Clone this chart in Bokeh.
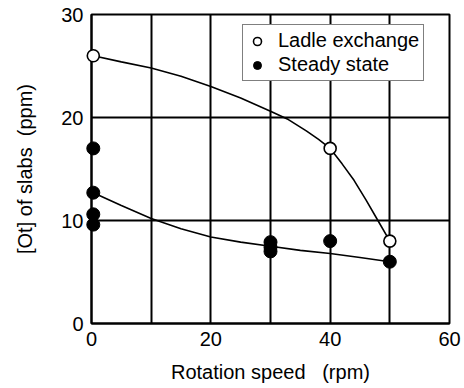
from bokeh.plotting import figure
from bokeh.models import FixedTicker, Legend, LegendItem, Range1d
from bokeh.embed import file_html
from bokeh.resources import INLINE

# Measured [Ot] of slabs vs. rotation speed
ladle_rpm = [0.3, 40, 50]
ladle_ppm = [26.0, 17.0, 8.0]

steady_rpm = [0.3, 0.3, 0.3, 0.3, 30, 30, 30, 40, 50]
steady_ppm = [17.0, 12.7, 10.6, 9.6, 7.9, 7.4, 7.0, 8.0, 6.0]

# Hand-drawn trend curves through each series
ladle_curve_rpm = [0.3, 5, 10, 15, 20, 25, 30, 33, 36, 38, 40, 42, 44, 46, 48, 50]
ladle_curve_ppm = [26.0, 25.4, 24.8, 24.0, 23.0, 21.9, 20.6, 19.8, 18.7, 17.9, 17.0, 15.5, 13.9, 12.0, 10.0, 8.0]

steady_curve_rpm = [0.3, 5, 10, 15, 20, 25, 30, 35, 40, 45, 50]
steady_curve_ppm = [12.7, 11.45, 10.2, 9.2, 8.4, 7.9, 7.5, 7.1, 6.8, 6.4, 6.0]

x_ticks = [0, 20, 40, 60]
y_ticks = [0, 10, 20, 30]
x_grid = [10, 20, 30, 40, 50]
y_grid = [10, 20]

FONT = "Liberation Sans"
FSIZE = "20px"
NBSP = "\u00a0"

p = figure(width=464, height=388, output_backend="svg", toolbar_location=None,
           x_range=Range1d(0, 60), y_range=Range1d(0, 30),
           min_border_left=91, min_border_right=15,
           min_border_top=14, min_border_bottom=65)
p.background_fill_color = "white"
p.border_fill_color = "white"
p.outline_line_color = "black"
p.outline_line_width = 2

p.xaxis.ticker = FixedTicker(ticks=x_ticks)
p.yaxis.ticker = FixedTicker(ticks=y_ticks)
p.xgrid.ticker = FixedTicker(ticks=x_grid)
p.ygrid.ticker = FixedTicker(ticks=y_grid)
for g in (p.xgrid, p.ygrid):
    g.grid_line_color = "black"
    g.grid_line_width = 2
    g.grid_line_alpha = 1.0

for ax in (p.xaxis, p.yaxis):
    ax.axis_line_color = "black"
    ax.axis_line_width = 2
    ax.major_tick_in = 0
    ax.major_tick_out = 0
    ax.minor_tick_in = 0
    ax.minor_tick_out = 0
    ax.major_label_text_font = FONT
    ax.major_label_text_font_size = FSIZE
    ax.major_label_text_color = "black"
    ax.major_label_standoff = 8
    ax.axis_label_text_font = FONT
    ax.axis_label_text_font_size = FSIZE
    ax.axis_label_text_font_style = "normal"
    ax.axis_label_text_color = "black"

p.xaxis.axis_label = "Rotation speed" + NBSP * 3 + "(rpm)"
p.xaxis.axis_label_standoff = 12
p.yaxis.axis_label = "[Ot] of slabs" + NBSP * 2 + "(ppm)"
p.yaxis.axis_label_standoff = 22

p.line(ladle_curve_rpm, ladle_curve_ppm, line_color="black", line_width=1.6)
p.line(steady_curve_rpm, steady_curve_ppm, line_color="black", line_width=1.6)

# markers sit on the left frame edge, so draw them above the frame clip
r_steady = p.scatter(steady_rpm, steady_ppm, marker="circle", size=13,
                     fill_color="black", line_color="black", level="overlay")
r_ladle = p.scatter(ladle_rpm, ladle_ppm, marker="circle", size=12,
                    fill_color="white", line_color="black", line_width=1.6,
                    level="overlay")

legend = Legend(items=[LegendItem(label="Ladle exchange", renderers=[r_ladle]),
                       LegendItem(label="Steady state", renderers=[r_steady])],
                location=(151, 242))
legend.label_text_font = FONT
legend.label_text_font_size = FSIZE
legend.label_text_color = "black"
legend.border_line_color = "black"
legend.border_line_width = 1
legend.background_fill_alpha = 1.0
legend.padding = 4
legend.spacing = 1
legend.label_standoff = 11
legend.glyph_width = 20
legend.glyph_height = 20
legend.label_height = 20
legend.margin = 0
p.add_layout(legend)

open("out.html", "w").write(file_html(p, INLINE))
